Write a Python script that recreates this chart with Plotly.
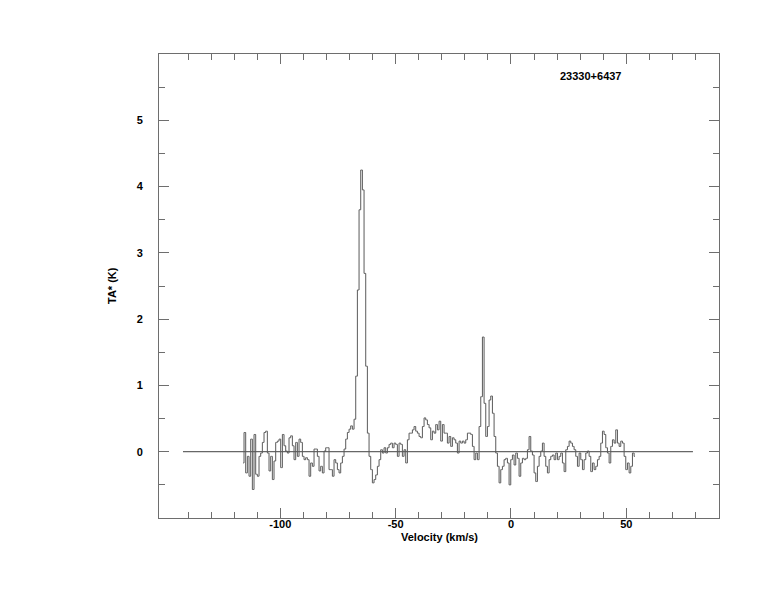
import plotly.graph_objects as go

# ---- data ----
v_start = -116.1          # velocity of first channel (km/s)
v_step = 0.7228           # channel width (km/s)
ta_values = [
    -0.17, 0.29, -0.32, -0.07, -0.37, 0.19, -0.57, 0.26, -0.34,
    -0.37, -0.07, -0.02, 0.14, 0.29, 0.31, -0.02, -0.29, -0.07, -0.42,
    -0.14, 0.14, 0.16, 0.19, -0.24, 0.26, 0.09, 0.01, -0.02,
    0.21, 0.24, 0.09, -0.12, 0.14, -0.07, 0.19, 0.14, -0.07, -0.12,
    -0.09, -0.12, -0.37, -0.17, -0.22, 0.04, 0.04, -0.07, -0.29,
    -0.22, -0.32, 0.01, 0.06, 0.06, -0.27, -0.27, -0.37, -0.12, -0.17,
    -0.27, -0.32, -0.17, -0.07, 0.04, 0.19, 0.29, 0.34, 0.39, 0.34,
    0.49, 1.14, 2.44, 3.65, 4.25, 3.95, 2.69, 1.29, 0.28, -0.07,
    -0.27, -0.47, -0.42, -0.35, -0.22, -0.12, 0.03, -0.02, 0.06, -0.02,
    0.06, 0.11, 0.13, 0.06, 0.13, 0.11, -0.07, 0.13, 0.11, -0.07,
    0.03, -0.17, 0.18, 0.28, 0.28, 0.33, 0.38, 0.31, 0.28, 0.23,
    0.21, 0.38, 0.51, 0.48, 0.41, 0.36, 0.18, 0.31, 0.28, 0.41,
    0.33, 0.46, 0.16, 0.41, 0.28, 0.28, 0.13, 0.23, 0.08, 0.21,
    0.18, 0.13, -0.02, 0.16, 0.13, 0.16, 0.13, 0.18, 0.28, 0.28,
    0.26, 0.08, -0.12, -0.02, -0.12, 0.38, 0.83, 1.73, 0.73, 0.23,
    0.38, 0.78, 0.84, 0.58, 0.23, -0.02, -0.22, -0.47, -0.27, -0.22,
    -0.12, -0.10, -0.17, -0.50, -0.12, -0.05, -0.20, -0.02, -0.10, -0.37,
    -0.17, -0.10, -0.12, -0.10, 0.03, 0.23, 0.01, -0.05, -0.32, -0.45,
    -0.22, -0.07, 0.01, 0.13, -0.07, -0.22, -0.32, -0.12, -0.07, -0.05,
    -0.12, -0.02, -0.12, -0.07, -0.02, -0.17, -0.30, 0.03, 0.08, 0.16,
    0.13, 0.08, 0.03, -0.07, -0.22, -0.02, -0.12, -0.27, -0.12, -0.02,
    0.01, -0.07, -0.30, -0.17, -0.27, -0.22, -0.12, -0.07, 0.13, 0.31,
    0.26, 0.06, -0.02, -0.17, 0.08, 0.18, 0.13, 0.33, 0.13, 0.08,
    0.16, 0.13, -0.07, -0.27, -0.17, -0.32, -0.22, -0.02, -0.07,
]
velocities = [v_start + v_step * i for i in range(len(ta_values))]
baseline_x = [-142.2, 78.9]
baseline_y = [0, 0]
x_major = [-100, -50, 0, 50]
x_minor = [-140, -130, -120, -110, -90, -80, -70, -60, -40, -30, -20, -10,
           10, 20, 30, 40, 60, 70, 80]
y_major = [0, 1, 2, 3, 4, 5]
y_minor = [-0.5, 0.5, 1.5, 2.5, 3.5, 4.5, 5.5]
source_name = "23330+6437"

FONT = "Liberation Sans"
AX = "#6e6e6e"

fig = go.Figure()
fig.add_trace(go.Scatter(x=baseline_x, y=baseline_y, mode="lines",
                         line=dict(color="#404040", width=1), hoverinfo="skip"))
fig.add_trace(go.Scatter(x=velocities, y=ta_values, mode="lines",
                         line=dict(color="#5a5a5a", width=1, shape="hvh")))

axis_common = dict(showgrid=False, zeroline=False, showline=True, linecolor=AX,
                   linewidth=1, mirror="ticks", ticks="inside", tickcolor=AX,
                   ticklen=10, tickwidth=1,
                   tickfont=dict(family=FONT, size=11, color="black", weight="bold"))

fig.update_xaxes(range=[-152.6, 90.2], tickmode="array", tickvals=x_major,
                 ticktext=[str(v) for v in x_major], ticklabelstandoff=-4,
                 minor=dict(tickmode="array", tickvals=x_minor, ticks="inside",
                            ticklen=6, tickcolor=AX, tickwidth=1),
                 **axis_common)
fig.update_yaxes(range=[-1, 6], tickmode="array", tickvals=y_major,
                 ticktext=[str(v) for v in y_major], ticklabelstandoff=13,
                 minor=dict(tickmode="array", tickvals=y_minor, ticks="inside",
                            ticklen=6, tickcolor=AX, tickwidth=1),
                 **axis_common)

fig.add_annotation(text="Velocity (km/s)", xref="paper", yref="paper", x=0.5, y=0,
                   yshift=-19, showarrow=False, xanchor="center", yanchor="middle",
                   font=dict(family=FONT, size=11, color="black", weight="bold"))
fig.add_annotation(text="TA* (K)", xref="paper", yref="paper", x=0, y=0.5,
                   xshift=-47, showarrow=False, textangle=-90,
                   xanchor="center", yanchor="middle",
                   font=dict(family=FONT, size=11, color="black", weight="bold"))
fig.add_annotation(text=source_name, xref="paper", yref="paper", x=0.771, y=0.9526,
                   showarrow=False, xanchor="center", yanchor="middle",
                   font=dict(family=FONT, size=11, color="black", weight="bold"))

fig.update_layout(width=774, height=612, showlegend=False,
                  margin=dict(l=151, r=63, t=46, b=102),
                  plot_bgcolor="white", paper_bgcolor="white")

fig.write_html("out.html")
